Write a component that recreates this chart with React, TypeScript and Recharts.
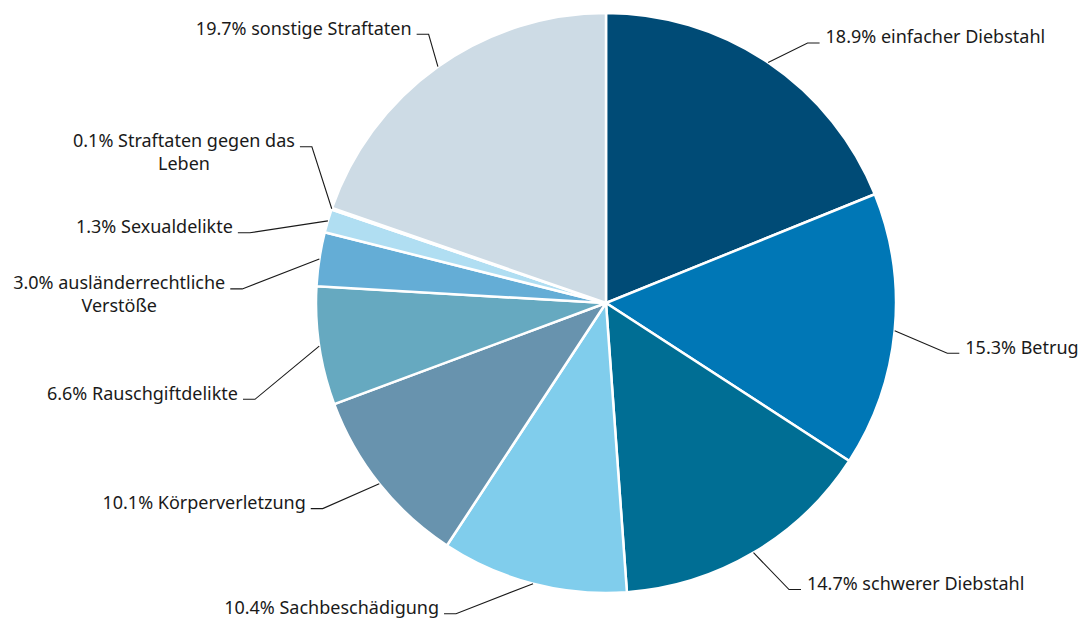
import React from "react";
import { PieChart, Pie, Cell } from "recharts";

const categories = [
  "einfacher Diebstahl",
  "Betrug",
  "schwerer Diebstahl",
  "Sachbeschädigung",
  "Körperverletzung",
  "Rauschgiftdelikte",
  "ausländerrechtliche\nVerstöße",
  "Sexualdelikte",
  "Straftaten gegen das\nLeben",
  "sonstige Straftaten",
];
const shares = [18.9, 15.3, 14.7, 10.4, 10.1, 6.6, 3.0, 1.3, 0.1, 19.7];
const colors = [
  "#004b76",
  "#0077b6",
  "#006e94",
  "#80cdec",
  "#6893ae",
  "#66a9c0",
  "#64add6",
  "#b0def2",
  "#e6eef4",
  "#cddbe5",
];

// leader-line elbow placement (angle shift from slice middle, radius)
const elbows = [
  { da: -3.8, r: 329 },
  { da: -2.9, r: 345 },
  { da: 2.0, r: 340 },
  { da: -11.2, r: 345 },
  { da: -2.6, r: 350 },
  { da: 6.8, r: 364 },
  { da: 6.5, r: 364 },
  { da: 5.3, r: 363 },
  { da: -9.0, r: 333 },
  { da: -2.0, r: 322 },
];

const data = categories.map((c, i) => ({ name: c, value: shares[i] }));

const FONT = '"Noto Sans", sans-serif';
const FS = 18;
let ctx: CanvasRenderingContext2D | null = null;
function measure(t: string) {
  if (!ctx) {
    const c = document.createElement("canvas");
    ctx = c.getContext("2d");
  }
  if (!ctx) return t.length * 9;
  ctx.font = `${FS}px ${FONT}`;
  return ctx.measureText(t).width;
}

const RAD = Math.PI / 180;

function renderLabel(props: any) {
  const { cx, cy, midAngle, outerRadius, index } = props;
  const sx = cx + outerRadius * Math.cos(-midAngle * RAD);
  const sy = cy + outerRadius * Math.sin(-midAngle * RAD);
  const e = elbows[index];
  const a = midAngle + e.da;
  const ex = cx + e.r * Math.cos(-a * RAD);
  const ey = cy + e.r * Math.sin(-a * RAD);
  const right = ex > cx;
  const hx = ex + (right ? 12 : -12);
  const lines = (shares[index].toFixed(1) + "% " + categories[index]).split("\n");
  const lineH = 23;
  const firstY = ey + 0.5;
  let textEls;
  if (right) {
    textEls = lines.map((l, i) => (
      <text key={i} x={hx + 6} y={firstY + i * lineH} textAnchor="start" fill="#1a1a1a" fontSize={FS} fontFamily={FONT}>
        {l}
      </text>
    ));
  } else if (lines.length === 1) {
    textEls = (
      <text x={hx - 5} y={firstY} textAnchor="end" fill="#1a1a1a" fontSize={FS} fontFamily={FONT}>
        {lines[0]}
      </text>
    );
  } else {
    const w = Math.max(...lines.map(measure));
    const mx = hx - 5 - w / 2;
    textEls = lines.map((l, i) => (
      <text key={i} x={mx} y={firstY + i * lineH} textAnchor="middle" fill="#1a1a1a" fontSize={FS} fontFamily={FONT}>
        {l}
      </text>
    ));
  }
  return (
    <g key={`lbl-${index}`}>
      <polyline points={`${sx},${sy} ${ex},${ey} ${hx},${ey}`} fill="none" stroke="#1a1a1a" strokeWidth={1.1} />
      {textEls}
    </g>
  );
}

export default function App() {
  return (
    <div style={{ position: "absolute", left: 0, top: 0, width: 1080, height: 624, background: "#fff" }}>
      <PieChart width={1080} height={624} margin={{ top: 0, right: 0, bottom: 0, left: 0 }}>
        <Pie
          data={data}
          dataKey="value"
          nameKey="name"
          cx={606}
          cy={303}
          outerRadius={290}
          startAngle={90}
          endAngle={-270}
          stroke="#ffffff"
          strokeWidth={2.5}
          label={renderLabel}
          labelLine={false}
          isAnimationActive={false}
        >
          {data.map((d, i) => (
            <Cell key={i} fill={colors[i]} />
          ))}
        </Pie>
      </PieChart>
    </div>
  );
}
